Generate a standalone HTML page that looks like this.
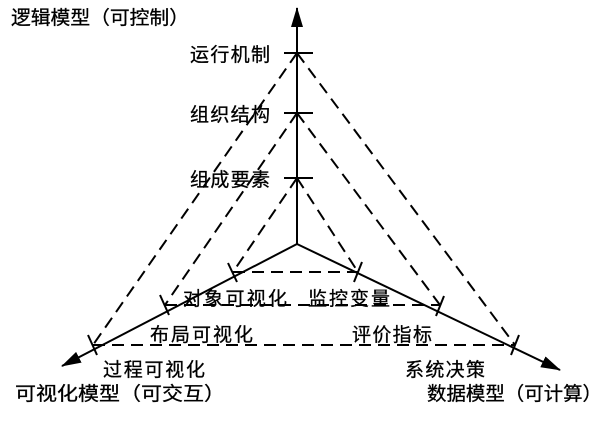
<!DOCTYPE html>
<html><head><meta charset="utf-8"><style>
body{margin:0;background:#fff}
svg text{font-family:"Liberation Sans","Noto Sans CJK SC",sans-serif;font-size:19px;fill:#000;stroke:#000;stroke-width:0.3}
</style></head><body>
<svg width="608" height="416" viewBox="0 0 608 416" xmlns="http://www.w3.org/2000/svg">
<defs>
<marker id="b" viewBox="0 0 20 12" markerWidth="20" markerHeight="12" refX="19" refY="6" orient="auto" markerUnits="userSpaceOnUse"><path d="M0,0 L20,6 L0,12 z" fill="#000"/></marker></defs>
<g stroke="#000" stroke-width="2" fill="none">
<line x1="297" y1="244" x2="297" y2="8" marker-end="url(#b)"/>
<line x1="297" y1="244" x2="62" y2="366" marker-end="url(#b)"/>
<line x1="297" y1="244" x2="560" y2="370" marker-end="url(#b)"/>
<line x1="284" y1="53" x2="313" y2="53"/>
<line x1="284" y1="113" x2="313" y2="113"/>
<line x1="284" y1="178" x2="313" y2="178"/>
<line x1="228" y1="263" x2="237" y2="282"/>
<line x1="160" y1="295" x2="169" y2="315"/>
<line x1="88" y1="335" x2="97" y2="355"/>
<line x1="362" y1="262" x2="354" y2="282"/>
<line x1="444" y1="296" x2="436" y2="316"/>
<line x1="519" y1="335" x2="511" y2="355"/>
</g>
<g stroke="#000" stroke-width="2" fill="none" stroke-dasharray="12,7">
<line x1="233" y1="272" x2="358" y2="272"/>
<line x1="165" y1="305" x2="440" y2="305"/>
<line x1="93" y1="345" x2="515" y2="345"/>
<line x1="297" y1="53" x2="93" y2="345"/>
<line x1="297" y1="53" x2="515" y2="345"/>
<line x1="297" y1="113" x2="165" y2="305"/>
<line x1="297" y1="113" x2="440" y2="305"/>
<line x1="297" y1="178" x2="233" y2="272"/>
<line x1="297" y1="178" x2="358" y2="272"/>
</g>
<text x="11" y="24" textLength="178" lengthAdjust="spacingAndGlyphs">逻辑模型（可控制）</text>
<text x="190" y="61" textLength="80">运行机制</text>
<text x="190" y="121" textLength="80">组织结构</text>
<text x="190" y="186" textLength="80">组成要素</text>
<text x="183" y="305" textLength="104">对象可视化</text>
<text x="308" y="305" textLength="82">监控变量</text>
<text x="150" y="341" textLength="103">布局可视化</text>
<text x="352" y="341" textLength="80">评价指标</text>
<text x="103" y="376" textLength="102">过程可视化</text>
<text x="405" y="376" textLength="80">系统决策</text>
<text x="15" y="400" textLength="210" lengthAdjust="spacingAndGlyphs">可视化模型（可交互）</text>
<text x="427" y="400" textLength="175" lengthAdjust="spacingAndGlyphs">数据模型（可计算）</text>
</svg>
</body></html>
